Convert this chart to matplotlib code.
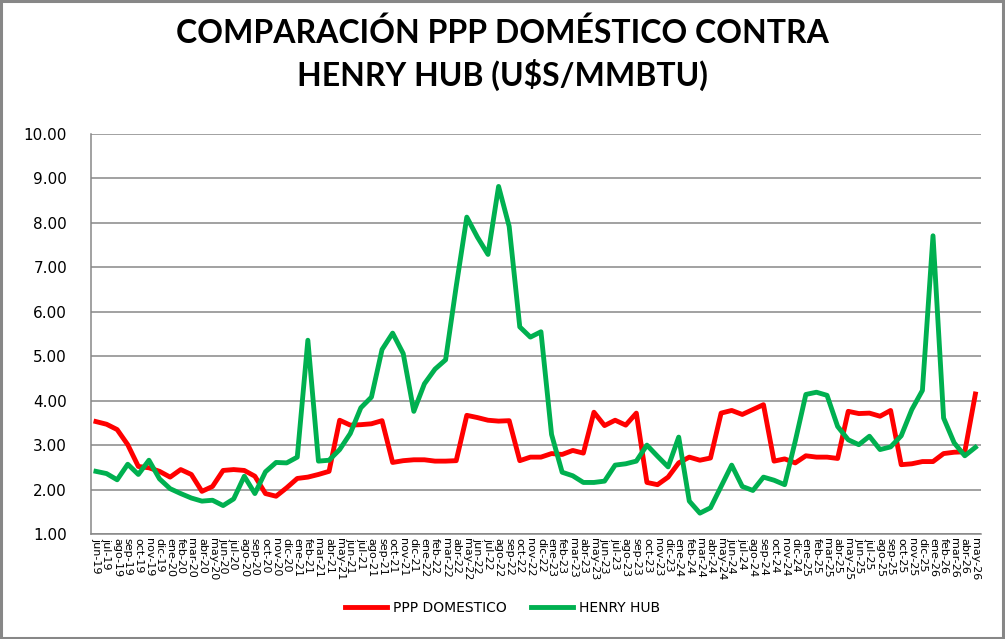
import numpy as np
import matplotlib
matplotlib.use('Agg')
import matplotlib.pyplot as plt
from matplotlib.patches import Rectangle

# month labels jun-19 .. may-26
meses = ['ene', 'feb', 'mar', 'abr', 'may', 'jun', 'jul', 'ago', 'sep', 'oct', 'nov', 'dic']
labels = []
for anio in range(19, 27):
    for m in range(12):
        if anio == 19 and m < 5:
            continue
        if anio == 26 and m > 4:
            continue
        labels.append('%s-%d' % (meses[m], anio))

ppp_domestico = [
    3.53, 3.47, 3.35, 3.01, 2.52, 2.49, 2.41, 2.28, 2.45, 2.34,
    1.96, 2.07, 2.43, 2.45, 2.43, 2.30, 1.91, 1.85, 2.04, 2.25,
    2.28, 2.34, 2.41, 3.56, 3.45, 3.46, 3.48, 3.55, 2.61, 2.65,
    2.67, 2.67, 2.64, 2.64, 2.65, 3.67, 3.62, 3.56, 3.54, 3.55,
    2.65, 2.73, 2.73, 2.81, 2.79, 2.88, 2.82, 3.74, 3.44, 3.56,
    3.45, 3.72, 2.16, 2.11, 2.28, 2.60, 2.73, 2.66, 2.71, 3.72,
    3.78, 3.69, 3.80, 3.91, 2.64, 2.69, 2.60, 2.76, 2.73, 2.73,
    2.70, 3.76, 3.71, 3.72, 3.65, 3.78, 2.56, 2.58, 2.63, 2.63,
    2.81, 2.84, 2.85, 4.15,
]

henry_hub = [
    2.41, 2.36, 2.22, 2.57, 2.34, 2.66, 2.24, 2.02, 1.91, 1.81,
    1.74, 1.76, 1.64, 1.79, 2.30, 1.91, 2.40, 2.61, 2.60, 2.73,
    5.36, 2.64, 2.66, 2.90, 3.26, 3.84, 4.08, 5.15, 5.52, 5.06,
    3.76, 4.38, 4.71, 4.92, 6.57, 8.13, 7.68, 7.29, 8.82, 7.92,
    5.66, 5.43, 5.55, 3.24, 2.39, 2.31, 2.16, 2.16, 2.19, 2.55,
    2.58, 2.64, 3.00, 2.75, 2.51, 3.18, 1.74, 1.47, 1.59, 2.07,
    2.55, 2.07, 1.98, 2.28, 2.21, 2.11, 3.09, 4.14, 4.19, 4.12,
    3.42, 3.12, 3.01, 3.20, 2.90, 2.96, 3.21, 3.80, 4.23, 7.71,
    3.61, 3.05, 2.76, 2.95,
]

x = np.arange(len(labels))

fig = plt.figure(figsize=(10.05, 6.39), dpi=100)
ax = fig.add_axes([0.0902, 0.1643, 0.8856, 0.626])

ax.plot(x, ppp_domestico, color='#FF0000', lw=3.5, label='PPP DOMESTICO', solid_joinstyle='round')
ax.plot(x, henry_hub, color='#00B050', lw=3.5, label='HENRY HUB', solid_joinstyle='round')

ax.set_xlim(-0.5, len(labels) - 0.5)
ax.set_ylim(1, 10)
ax.set_yticks(np.arange(1, 10.01, 1))
ax.set_yticklabels(['%.2f' % v for v in np.arange(1, 10.01, 1)], fontsize=11)
ax.set_xticks(x)
ax.set_xticklabels(labels, rotation=270, fontsize=8, va='top', ha='center')
ax.tick_params(axis='y', length=0, pad=17)
ax.tick_params(axis='x', length=0, pad=3)
ax.grid(axis='y', color='#878787', lw=1.1)
ax.set_axisbelow(True)
for s in ['top', 'right']:
    ax.spines[s].set_visible(False)
for s in ['left', 'bottom']:
    ax.spines[s].set_color('#878787')
    ax.spines[s].set_linewidth(1.1)

fig.text(0.5, 0.915, 'COMPARACIÓN PPP DOMÉSTICO CONTRA\nHENRY HUB (U$S/MMBTU)',
         ha='center', va='center', fontsize=23, fontweight='bold',
         family='Lato', linespacing=1.4)

fig.legend(loc='center', bbox_to_anchor=(0.5, 0.048), ncol=2, frameon=False,
           fontsize=10, handlelength=3, columnspacing=1.8, handletextpad=0.4)

fig.patches.append(Rectangle((0.001, 0.002), 0.997, 0.996, transform=fig.transFigure,
                             fill=False, edgecolor='#878787', lw=2.2))

fig.savefig('out.png', dpi=100)
